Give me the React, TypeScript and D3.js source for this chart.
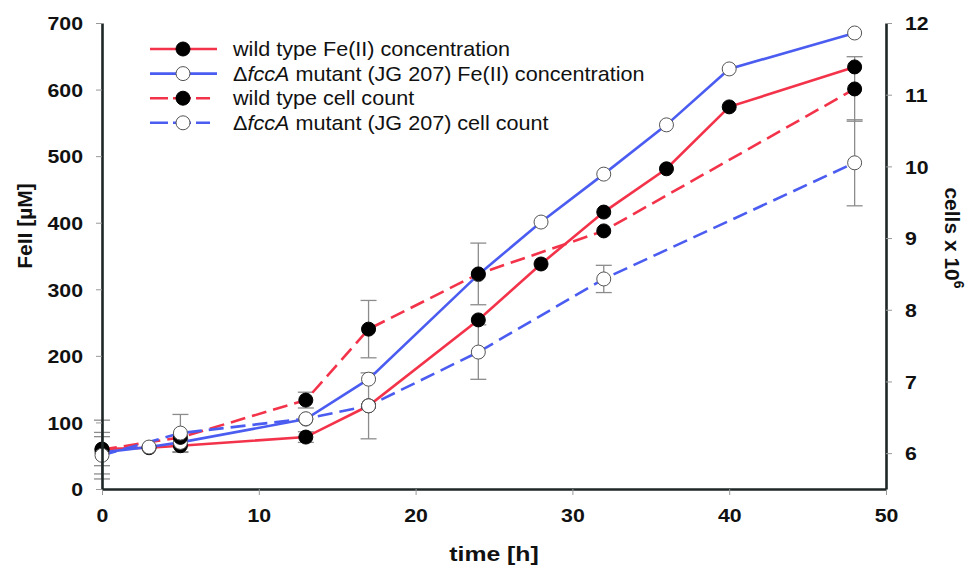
import React, { useEffect, useRef } from 'react';
import * as d3 from 'd3';

// Fe(II) concentration, µM
const feTimes = [0, 3, 5, 13, 17, 24, 28, 32, 36, 40, 48];
const wildFe = [60, 62, 65, 78, 125, 254, 338, 416, 481, 574, 634];
const wildFeErr = [25, 0, 10, 8, 0, 0, 0, 0, 0, 0, 0];
const mutantFe = [55, 63, 70, 105, 165, 322, 401, 473, 547, 631, 685];
const mutantFeErr = [0, 0, 0, 0, 0, 0, 0, 0, 0, 0, 0];

// cell counts, x 10^6
const cellTimes = [0, 5, 13, 17, 24, 32, 48];
const wildCells = [6.05, 6.22, 6.74, 7.73, 8.5, 9.1, 11.08];
const wildCellsErr = [0.41, 0, 0.11, 0.4, 0.43, 0, 0.45];
const mutantCells = [5.97, 6.28, 6.48, 6.66, 7.41, 8.43, 10.05];
const mutantCellsErr = [0.26, 0.26, 0, 0.46, 0.38, 0.19, 0.6];

const xTicks = [0, 10, 20, 30, 40, 50];
const feTicks = [0, 100, 200, 300, 400, 500, 600, 700];
const cellTicks = [6, 7, 8, 9, 10, 11, 12];

const legendLabels = [
  { pre: '', ital: '', post: 'wild type Fe(II) concentration' },
  { pre: '\u0394', ital: 'fccA', post: ' mutant (JG 207) Fe(II) concentration' },
  { pre: '', ital: '', post: 'wild type cell count' },
  { pre: '\u0394', ital: 'fccA', post: ' mutant (JG 207) cell count' },
];

const RED = '#f3334a';
const BLUE = '#4b5cf0';
const FONT = '"Liberation Sans", Arial, sans-serif';

const Chart = () => {
  const chartRef = useRef<SVGSVGElement>(null);

  useEffect(() => {
    const width = 971;
    const height = 565;
    const margin = { top: 23, right: 85, bottom: 76, left: 102 };

    const x = d3.scaleLinear().domain([0, 50]).range([margin.left, width - margin.right]);
    const yFe = d3.scaleLinear().domain([0, 700]).range([height - margin.bottom, margin.top]);
    const yCells = d3.scaleLinear().domain([5.5, 12]).range([height - margin.bottom, margin.top]);

    const svg = d3.select(chartRef.current);
    svg.selectAll('*').remove();

    // series built from the arrays above
    const series = [
      { t: feTimes, v: wildFe, e: wildFeErr, y: yFe, color: RED, dash: null, filled: true },
      { t: feTimes, v: mutantFe, e: mutantFeErr, y: yFe, color: BLUE, dash: null, filled: false },
      { t: cellTimes, v: wildCells, e: wildCellsErr, y: yCells, color: RED, dash: '15,7', filled: true },
      { t: cellTimes, v: mutantCells, e: mutantCellsErr, y: yCells, color: BLUE, dash: '15,7', filled: false },
    ];

    // error bars
    const errG = svg.append('g').attr('stroke', '#8c8c8c').attr('stroke-width', 1.3);
    series.forEach(s => {
      s.t.forEach((t, i) => {
        const e = s.e[i];
        if (!e) return;
        const cx = x(t);
        const y0 = s.y(s.v[i] - e);
        const y1 = s.y(s.v[i] + e);
        errG.append('line').attr('x1', cx).attr('x2', cx).attr('y1', y0).attr('y2', y1);
        errG.append('line').attr('x1', cx - 8).attr('x2', cx + 8).attr('y1', y0).attr('y2', y0);
        errG.append('line').attr('x1', cx - 8).attr('x2', cx + 8).attr('y1', y1).attr('y2', y1);
      });
    });

    // lines
    series.forEach(s => {
      const line = d3.line<number>()
        .x((_, i) => x(s.t[i]))
        .y(d => s.y(d));
      svg.append('path')
        .datum(s.v)
        .attr('d', line)
        .attr('fill', 'none')
        .attr('stroke', s.color)
        .attr('stroke-width', 2.6)
        .attr('stroke-dasharray', s.dash);
    });

    // markers, in the stacking order seen in the figure
    series.forEach(s => {
      svg.append('g')
        .selectAll('circle')
        .data(s.v)
        .enter()
        .append('circle')
        .attr('cx', (_, i) => x(s.t[i]))
        .attr('cy', d => s.y(d))
        .attr('r', 7)
        .attr('fill', s.filled ? '#000' : '#fff')
        .attr('stroke', s.filled ? '#000' : '#555')
        .attr('stroke-width', 1);
    });

    // axes
    const styleAxis = (g: any) => {
      g.select('.domain').attr('stroke', '#1e2626').attr('stroke-width', 2.6);
      g.selectAll('.tick line').attr('stroke', '#999').attr('stroke-width', 1);
      g.selectAll('.tick text')
        .attr('fill', '#111')
        .attr('font-family', FONT)
        .attr('font-weight', 'bold')
        .attr('font-size', 19);
    };

    const xAxis = svg.append('g')
      .attr('transform', `translate(0,${height - margin.bottom})`)
      .call(d3.axisBottom(x).tickValues(xTicks).tickSize(6).tickSizeOuter(0).tickFormat(d3.format('d')));
    styleAxis(xAxis);
    xAxis.selectAll('.tick text').attr('y', 0).attr('dy', 0)
      .attr('transform', 'translate(0,33) scale(1.12,1)');

    const leftAxis = svg.append('g')
      .attr('transform', `translate(${margin.left},0)`)
      .call(d3.axisLeft(yFe).tickValues(feTicks).tickSize(6).tickSizeOuter(0).tickFormat(d3.format('d')));
    styleAxis(leftAxis);
    leftAxis.selectAll('.tick text').attr('x', 0).attr('dy', '0.36em')
      .attr('transform', 'translate(-19,0) scale(1.12,1)');

    const rightAxis = svg.append('g')
      .attr('transform', `translate(${width - margin.right},0)`)
      .call(d3.axisRight(yCells).tickValues(cellTicks).tickSize(6).tickSizeOuter(0).tickFormat(d3.format('d')));
    styleAxis(rightAxis);
    rightAxis.selectAll('.tick text').attr('x', 0).attr('dy', '0.36em')
      .attr('transform', 'translate(19,0) scale(1.12,1)');

    // axis titles
    svg.append('text')
      .attr('transform', `translate(${(margin.left + width - margin.right) / 2},561) scale(1.18,1)`)
      .attr('text-anchor', 'middle')
      .attr('font-family', FONT)
      .attr('font-weight', 'bold')
      .attr('font-size', 21)
      .attr('fill', '#111')
      .text('time [h]');

    svg.append('text')
      .attr('transform', 'translate(32,226) rotate(-90)')
      .attr('text-anchor', 'middle')
      .attr('font-family', FONT)
      .attr('font-weight', 'bold')
      .attr('font-size', 21)
      .attr('fill', '#111')
      .text('FeII [\u00b5M]');

    const cellsTitle = svg.append('text')
      .attr('transform', 'translate(945,238) rotate(90)')
      .attr('text-anchor', 'middle')
      .attr('font-family', FONT)
      .attr('font-weight', 'bold')
      .attr('font-size', 21)
      .attr('fill', '#111');
    cellsTitle.append('tspan').text('cells x 10');
    cellsTitle.append('tspan').attr('font-size', 14).attr('dy', -9).text('6');

    // legend
    const legend = svg.append('g');
    series.forEach((s, i) => {
      const ly = 49 + i * 24.6;
      legend.append('line')
        .attr('x1', 150).attr('x2', s.dash ? 210 : 217)
        .attr('y1', ly).attr('y2', ly)
        .attr('stroke', s.color)
        .attr('stroke-width', 2.6)
        .attr('stroke-dasharray', s.dash ? '18,5' : null);
      legend.append('circle')
        .attr('cx', 183).attr('cy', ly).attr('r', 7)
        .attr('fill', s.filled ? '#000' : '#fff')
        .attr('stroke', s.filled ? '#000' : '#555')
        .attr('stroke-width', 1);
      const lab = legendLabels[i];
      const txt = legend.append('text')
        .attr('transform', `translate(233,${ly + 7}) scale(1.08,1)`)
        .attr('font-family', FONT)
        .attr('font-size', 20)
        .attr('fill', '#111');
      if (lab.pre) txt.append('tspan').text(lab.pre);
      if (lab.ital) txt.append('tspan').attr('font-style', 'italic').text(lab.ital);
      txt.append('tspan').text(lab.post);
    });

    return () => {
      d3.select(chartRef.current).selectAll('*').remove();
    };
  }, []);

  return (
    <svg
      ref={chartRef}
      width={971}
      height={565}
      style={{ position: 'absolute', left: 0, top: 0, background: '#fff' }}
    />
  );
};

export default function App() {
  return <Chart />;
}
